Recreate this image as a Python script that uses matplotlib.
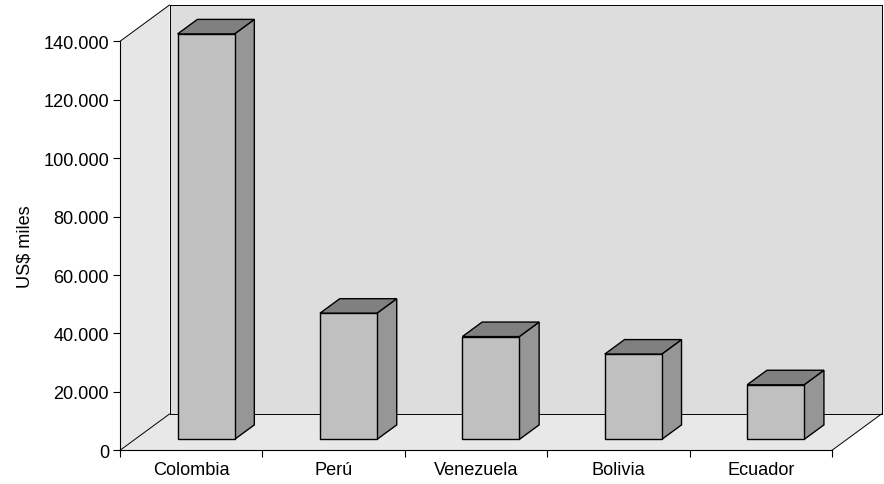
import matplotlib
matplotlib.use("Agg")
import matplotlib.pyplot as plt
from matplotlib.patches import Polygon
from matplotlib.lines import Line2D
from matplotlib.ticker import FuncFormatter, MultipleLocator

# Data
countries = ["Colombia", "Perú", "Venezuela", "Bolivia", "Ecuador"]
values = [138800, 43200, 35200, 29200, 18700]
y_max = 140000
y_step = 20000
y_label = "US$ miles"

# Styling
plt.rcParams["font.family"] = ["Liberation Sans", "DejaVu Sans"]
FONT_SIZE = 13.1
BACK_WALL = "#dddddd"
SIDE_WALL = "#e6e6e6"
FLOOR = "#e8e8e8"
BAR_FRONT = "#c0c0c0"
BAR_SIDE = "#969696"
BAR_TOP = "#808080"
EDGE = "black"

W, H = 884, 485
fig = plt.figure(figsize=(W / 100, H / 100), dpi=100)
fig.patch.set_facecolor("white")

# Front plane of the 3D box in pixel terms
left_px, right_px = 120, 832
zero_px, top_px = 451.3, 42.3          # measured from the top of the figure
ax = fig.add_axes([left_px / W, (H - zero_px) / H,
                   (right_px - left_px) / W, (zero_px - top_px) / H])
n = len(countries)
ax.set_xlim(0, n)
ax.set_ylim(0, y_max)
ax.set_facecolor("none")

# Oblique depth offset (as fraction of the axis extents)
DEPTH_X = 49.5 / (right_px - left_px)
DEPTH_Y = 36.3 / (zero_px - top_px)


def proj(x, v, d):
    """Project a point at depth d (0 = front, 1 = back) onto the data plane."""
    return (x + d * DEPTH_X * n, v + d * DEPTH_Y * y_max)


def poly(points, color, z, lw=1.0, edge=EDGE):
    p = Polygon(points, closed=True, facecolor=color, edgecolor=edge,
                linewidth=lw, zorder=z, clip_on=False, joinstyle="miter")
    ax.add_patch(p)


def line(p0, p1, z=0.9, lw=0.7):
    ax.add_line(Line2D([p0[0], p1[0]], [p0[1], p1[1]], color=EDGE,
                       linewidth=lw, zorder=z, clip_on=False))


# Back wall, side wall and floor
poly([proj(0, 0, 1), proj(n, 0, 1), proj(n, y_max, 1), proj(0, y_max, 1)],
     BACK_WALL, 0.5, lw=0, edge="none")
poly([proj(0, 0, 0), proj(0, 0, 1), proj(0, y_max, 1), proj(0, y_max, 0)],
     SIDE_WALL, 0.6, lw=0, edge="none")
poly([proj(0, 0, 0), proj(n, 0, 0), proj(n, 0, 1), proj(0, 0, 1)],
     FLOOR, 0.7, lw=0, edge="none")

# Box edges
line(proj(0, 0, 1), proj(0, y_max, 1))
line(proj(0, y_max, 1), proj(n, y_max, 1))
line(proj(n, y_max, 1), proj(n, 0, 1))
line(proj(0, 0, 1), proj(n, 0, 1))
line(proj(0, y_max, 0), proj(0, y_max, 1))
line(proj(0, 0, 0), proj(0, 0, 1))
line(proj(n, 0, 0), proj(n, 0, 1))

# 3D bars: width 40% of a category, depth from 0.3 to 0.7 of the box
bar_w = 0.4
d0, d1 = 0.3, 0.7
for i, v in enumerate(values):
    xl = i + 0.5 - bar_w / 2
    xr = i + 0.5 + bar_w / 2
    front = [proj(xl, 0, d0), proj(xr, 0, d0), proj(xr, v, d0), proj(xl, v, d0)]
    side = [proj(xr, 0, d0), proj(xr, 0, d1), proj(xr, v, d1), proj(xr, v, d0)]
    top = [proj(xl, v, d0), proj(xr, v, d0), proj(xr, v, d1), proj(xl, v, d1)]
    poly(side, BAR_SIDE, 1.0 + i * 0.01)
    poly(top, BAR_TOP, 1.0 + i * 0.01)
    poly(front, BAR_FRONT, 1.0 + i * 0.01)

# Axes lines and ticks
for s in ("top", "right"):
    ax.spines[s].set_visible(False)
for s in ("left", "bottom"):
    ax.spines[s].set_linewidth(0.8)
    ax.spines[s].set_zorder(3)

ax.yaxis.set_major_locator(MultipleLocator(y_step))
ax.yaxis.set_major_formatter(FuncFormatter(
    lambda v, _: f"{int(v):,}".replace(",", ".")))
ax.tick_params(axis="y", direction="out", length=5, width=0.8, pad=3,
               labelsize=FONT_SIZE)

ax.set_xticks(range(n + 1))
ax.set_xticklabels([])
ax.set_xticks([i + 0.5 for i in range(n)], minor=True)
ax.set_xticklabels(countries, minor=True)
ax.tick_params(axis="x", which="major", direction="out", length=5, width=0.8)
ax.tick_params(axis="x", which="minor", length=0, pad=7.5, labelsize=FONT_SIZE)

fig.text(25 / W, 1 - 246.5 / H, y_label, rotation=90, ha="center",
         va="center", fontsize=FONT_SIZE)

fig.savefig("out.png", dpi=100, facecolor="white")
